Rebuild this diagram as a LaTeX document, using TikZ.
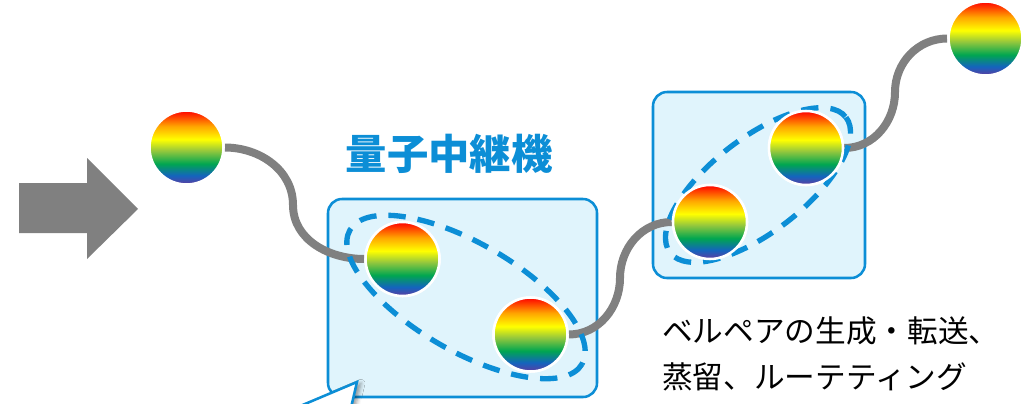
\documentclass[tikz,border=0pt]{standalone}
\usepackage{fontspec}
\newfontfamily\jp{Noto Sans CJK JP}
\usetikzlibrary{shadows.blur}
\definecolor{boxblue}{RGB}{12,142,214}
\definecolor{boxfill}{RGB}{224,244,252}
\definecolor{linkgray}{RGB}{128,128,128}
\definecolor{rbred}{RGB}{255,0,0}
\definecolor{rborange}{RGB}{255,165,0}
\definecolor{rbyellow}{RGB}{255,255,0}
\definecolor{rbygreen}{RGB}{150,200,60}
\definecolor{rbgreen}{RGB}{0,166,80}
\definecolor{rbblue}{RGB}{20,100,190}
\definecolor{rbviolet}{RGB}{95,60,160}
\pgfdeclareverticalshading{rainbow}{100bp}{%
  color(0bp)=(rbviolet); color(25bp)=(rbviolet); color(31bp)=(rbblue);
  color(39bp)=(rbgreen); color(48bp)=(rbygreen); color(55.5bp)=(rbyellow);
  color(64.5bp)=(rborange); color(75bp)=(rbred); color(100bp)=(rbred)}
\tikzset{
  ball/.style={circle, inner sep=0pt, minimum size=55.5pt, shading=rainbow, draw=white, line width=1.9pt},
  repeater/.style={draw=boxblue, fill=boxfill, line width=1.9pt, rounded corners=10.5pt},
  link/.style={draw=linkgray, line width=6pt},
  pair/.style={draw=boxblue, line width=4pt, dash pattern=on 13pt off 9pt},
  bigarrow/.style={fill=linkgray},
  title/.style={font=\jp\bfseries\fontsize{31pt}{34pt}\selectfont, text=boxblue},
  note/.style={font=\jp\fontsize{23pt}{34pt}\selectfont, align=left, anchor=west, inner sep=0pt}
}
\begin{document}
\begin{tikzpicture}[x=0.75pt, y=-0.75pt]
\useasboundingbox (0,0) rectangle (1030,403);
% big arrow
\fill[bigarrow] (19,183) -- (87,183) -- (87,158) -- (138,209) -- (87,259) -- (87,233) -- (19,233) -- cycle;
% repeater boxes
\draw[repeater] (328,199) rectangle (597,397);
\draw[repeater] (653,92) rectangle (865,278);
% callout pointer
\draw[fill=white, draw=boxblue, line width=1.9pt, blur shadow={shadow xshift=3pt, shadow yshift=-1pt, shadow blur radius=3pt}] (286,412) -- (357,382) -- (350,412);
% title
\node[title] (t) at (449,154) {量子中継機};
% coordinates for curve midpoints
\coordinate (m1) at (293,205);
\coordinate (m2) at (620,278);
\coordinate (m3) at (895,92);
% balls
\node[ball] (b1) at (186.5,147.5) {};
\node[ball] (b2) at (402.5,259) {};
\node[ball] (b3) at (530.5,334.5) {};
\node[ball] (b4) at (710,222) {};
\node[ball] (b5) at (806,148) {};
\node[ball] (b6) at (985.5,38.5) {};
% links
\draw[link] (b1.east) to[out=0,in=90] (m1) to[out=-90,in=180] (b2.west);
\draw[link] (b3.east) to[out=0,in=-90] (m2) to[out=90,in=180] (b4.west);
\draw[link] (b5.east) to[out=0,in=-90] (m3) to[out=90,in=180] (b6.west);
% entangled pair ellipses
\draw[pair, rotate around={-30:(466,297)}] (466,297) ellipse [x radius=134, y radius=54];
\draw[pair, rotate around={37.6:(758,185)}] (758,185) ellipse [x radius=111, y radius=47];
% balls redrawn on top
\foreach \p in {(186.5,147.5), (402.5,259), (530.5,334.5), (710,222), (806,148), (985.5,38.5)}
  \node[ball] at \p {};
% note
\node[note] (n) at (662,354) {ベルペアの生成・転送、\\蒸留、ルーテティング};
\end{tikzpicture}
\end{document}
